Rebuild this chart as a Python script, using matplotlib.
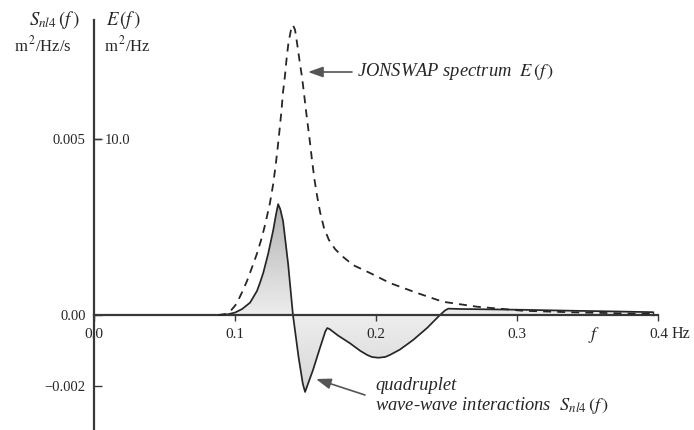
import numpy as np
import matplotlib
matplotlib.use("Agg")
import matplotlib.pyplot as plt
from matplotlib.patches import PathPatch
from matplotlib.path import Path

# --- data -------------------------------------------------------------
# quadruplet wave-wave interaction source term S_nl4(f)  [m^2/Hz/s]
f_snl = [0.089, 0.095, 0.100, 0.105, 0.1106, 0.1155, 0.1177, 0.1200, 0.1234,
         0.1270, 0.1290, 0.1305, 0.1320, 0.1340, 0.1376, 0.1410, 0.1450,
         0.1480, 0.1496, 0.1512, 0.1552, 0.1600, 0.1640, 0.1653, 0.1670,
         0.1729, 0.1814, 0.1885, 0.1935, 0.1970, 0.2015, 0.2063, 0.2098,
         0.2168, 0.2261, 0.2360, 0.2452, 0.2488, 0.2511, 0.2600, 0.2800,
         0.3000, 0.3400, 0.3700, 0.3960]
snl = [0.0, 0.00002, 0.00007, 0.00017, 0.00035, 0.00068, 0.00092, 0.00120,
       0.00173, 0.00240, 0.00285, 0.00314, 0.00300, 0.00266, 0.00144, 0.0,
       -0.00120, -0.00195, -0.00218, -0.00200, -0.00156, -0.00095, -0.00046,
       -0.00037, -0.00040, -0.00058, -0.00080, -0.00101, -0.00113, -0.00119,
       -0.00121, -0.00119, -0.00113, -0.00098, -0.00071, -0.00037, 0.0,
       0.00013, 0.00018, 0.00017, 0.00016, 0.00015, 0.00012, 0.00010,
       0.00008]

# JONSWAP spectrum E(f)  [m^2/Hz]
f_e = [0.088, 0.093, 0.097, 0.101, 0.105, 0.1085, 0.112, 0.1156, 0.119,
       0.1215, 0.1247, 0.1269, 0.1286, 0.1300, 0.1315, 0.1329, 0.1339,
       0.1354, 0.1364, 0.1378, 0.1396, 0.1410, 0.1425, 0.1439, 0.1456,
       0.1474, 0.1488, 0.1502, 0.1517, 0.1531, 0.1545, 0.1563, 0.1580,
       0.1602, 0.1630, 0.1665, 0.1708, 0.1758, 0.1836, 0.1956, 0.2098,
       0.2289, 0.2473, 0.2714, 0.3040, 0.3400, 0.3700, 0.3980]
e_spec = [0.0, 0.05, 0.25, 0.63, 1.30, 1.94, 2.70, 3.50, 4.40, 5.20, 6.35,
          7.37, 8.39, 9.35, 10.48, 11.61, 12.58, 13.60, 14.45, 15.41, 16.15,
          16.43, 16.15, 15.41, 14.45, 13.48, 12.58, 11.61, 10.65, 9.75, 8.78,
          7.65, 6.80, 5.84, 4.93, 4.25, 3.74, 3.34, 2.83, 2.38, 1.81, 1.25,
          0.75, 0.47, 0.24, 0.15, 0.10, 0.06]

x_ticks = [0.0, 0.1, 0.2, 0.3, 0.4]
x_tick_labels = ["0.0", "0.1", "0.2", "0.3", "0.4"]
s_ticks = [-0.002, 0.0, 0.005]
s_tick_labels = ["\u22120.002", "0.00", "0.005"]
e_ticks = [10.0]
e_tick_labels = ["10.0"]

# --- style ------------------------------------------------------------
plt.rcParams["font.family"] = ["Liberation Serif", "DejaVu Serif"]
plt.rcParams["mathtext.fontset"] = "stix"
INK = "#262626"
AXC = "#383838"

W, H = 694, 430
fig = plt.figure(figsize=(W / 100, H / 100), dpi=100)
ax = fig.add_axes([0, 0, 1, 1])

XPX = 1411.0          # pixels per Hz
X0 = 94.0             # pixel column of f = 0
YPX = 35300.0         # pixels per unit of S_nl4
Y0 = 315.0            # pixel row of zero
E_PER_S = 2000.0      # 10.0 m^2/Hz sits level with 0.005 m^2/Hz/s

xlim = (-X0 / XPX, (W - X0) / XPX)
ylim = (-(H - Y0) / YPX, Y0 / YPX)

# shaded area between S_nl4 and the axis, darker away from zero
yy = np.linspace(ylim[0], ylim[1], 600)
g = np.where(yy > 0, 0.93 - np.clip(yy / 0.0032, 0, 1) * 0.24,
             0.93 - np.clip(-yy / 0.0022, 0, 1) * 0.09)
img = np.repeat(g[:, None], 2, axis=1)
im = ax.imshow(img, extent=[0.0, 0.4, ylim[0], ylim[1]], origin="lower",
               cmap="gray", vmin=0, vmax=1, aspect="auto", zorder=1,
               interpolation="bilinear")
verts = [(f_snl[0], 0.0)] + list(zip(f_snl, snl)) + [(f_snl[-1], 0.0)]
clip = PathPatch(Path(verts), transform=ax.transData, facecolor="none",
                 edgecolor="none")
ax.add_patch(clip)
im.set_clip_path(clip)

ax.plot(f_snl, snl, color=INK, lw=1.25, zorder=3, solid_joinstyle="round")
ax.plot([f_snl[-1], f_snl[-1]], [snl[-1], 0.0], color=INK, lw=1.0, zorder=3)

ax.set_xlim(*xlim)
ax.set_ylim(*ylim)

# E(f) on its own scale, sharing the same vertical axis line
ax2 = ax.twinx()
ax2.set_position([0, 0, 1, 1])
ax2.set_ylim(ylim[0] * E_PER_S, ylim[1] * E_PER_S)
ax2.plot(f_e, e_spec, color=INK, lw=1.3, ls=(0, (4.4, 3.4)), zorder=3)
ax.set_xlim(*xlim)

# axis lines
for s in ["top", "right"]:
    ax.spines[s].set_visible(False)
for s in ["top", "left", "bottom", "right"]:
    ax2.spines[s].set_visible(False)
ax.spines["left"].set_position(("data", 0.0))
ax.spines["bottom"].set_position(("data", 0.0))
ax.spines["left"].set_bounds(ylim[0], ylim[1] - 20 / YPX)
ax.spines["bottom"].set_bounds(0.0, 0.4)
for s in ["left", "bottom"]:
    ax.spines[s].set_color(AXC)
    ax.spines[s].set_linewidth(1.6)
    ax.spines[s].set_zorder(4)
ax2.spines["right"].set_position(("axes", X0 / W))

ax.set_xticks(x_ticks)
ax.set_xticklabels(x_tick_labels)
ax.set_yticks(s_ticks)
ax.set_yticklabels(s_tick_labels)
ax.tick_params(axis="x", direction="out", length=4.5, width=1.0,
               color=AXC, pad=4.5, labelsize=11, labelcolor=INK)
ax.tick_params(axis="y", direction="in", length=5.5, width=1.0,
               color=AXC, pad=6.0, labelsize=10.5, labelcolor=INK)

ax2.set_yticks(e_ticks)
ax2.set_yticklabels(e_tick_labels)
ax2.tick_params(axis="y", direction="out", length=5.0, width=1.0,
                color=AXC, pad=3.0, labelsize=10.5, labelcolor=INK)


def px(x, y):
    return (x / W, 1 - y / H)


# unit labels above the vertical axis
fig.text(*px(54, 20), r"$S_{nl4}\,(f\,)$", ha="center", va="center",
         fontsize=13.5, color=INK)
fig.text(*px(123, 20), r"$E\,(f\,)$", ha="center", va="center",
         fontsize=13.5, color=INK)
fig.text(*px(43, 45), r"m$^{\,2}$/Hz/s", ha="center", va="center",
         fontsize=12, color=INK)
fig.text(*px(127, 45), r"m$^{\,2}$/Hz", ha="center", va="center",
         fontsize=12, color=INK)

# frequency axis name and unit
fig.text(*px(594, 335), r"$f$", ha="center", va="center", fontsize=13,
         color=INK)
fig.text(*px(681, 334), "Hz", ha="center", va="center", fontsize=11.5,
         color=INK)

# callouts
arrow_kw = dict(arrowstyle="-|>,head_length=0.9,head_width=0.32",
                color="#555555", lw=1.2, mutation_scale=10,
                shrinkA=0, shrinkB=0)
ax.annotate("", xy=px(308, 72), xycoords="figure fraction",
            xytext=px(352, 72), textcoords="figure fraction",
            arrowprops=arrow_kw, zorder=5)
fig.text(*px(357, 72), r"JONSWAP spectrum  $E\,(f\,)$", ha="left",
         va="center", fontsize=13.3, style="italic", color=INK)

ax.annotate("", xy=px(316, 379), xycoords="figure fraction",
            xytext=px(365, 395), textcoords="figure fraction",
            arrowprops=arrow_kw, zorder=5)
fig.text(*px(375, 386), "quadruplet", ha="left", va="center",
         fontsize=13.3, style="italic", color=INK)
fig.text(*px(375, 405), r"wave-wave interactions  $S_{nl4}\,(f\,)$",
         ha="left", va="center", fontsize=13.3, style="italic", color=INK)

fig.savefig("out.png", dpi=100, facecolor="white")
